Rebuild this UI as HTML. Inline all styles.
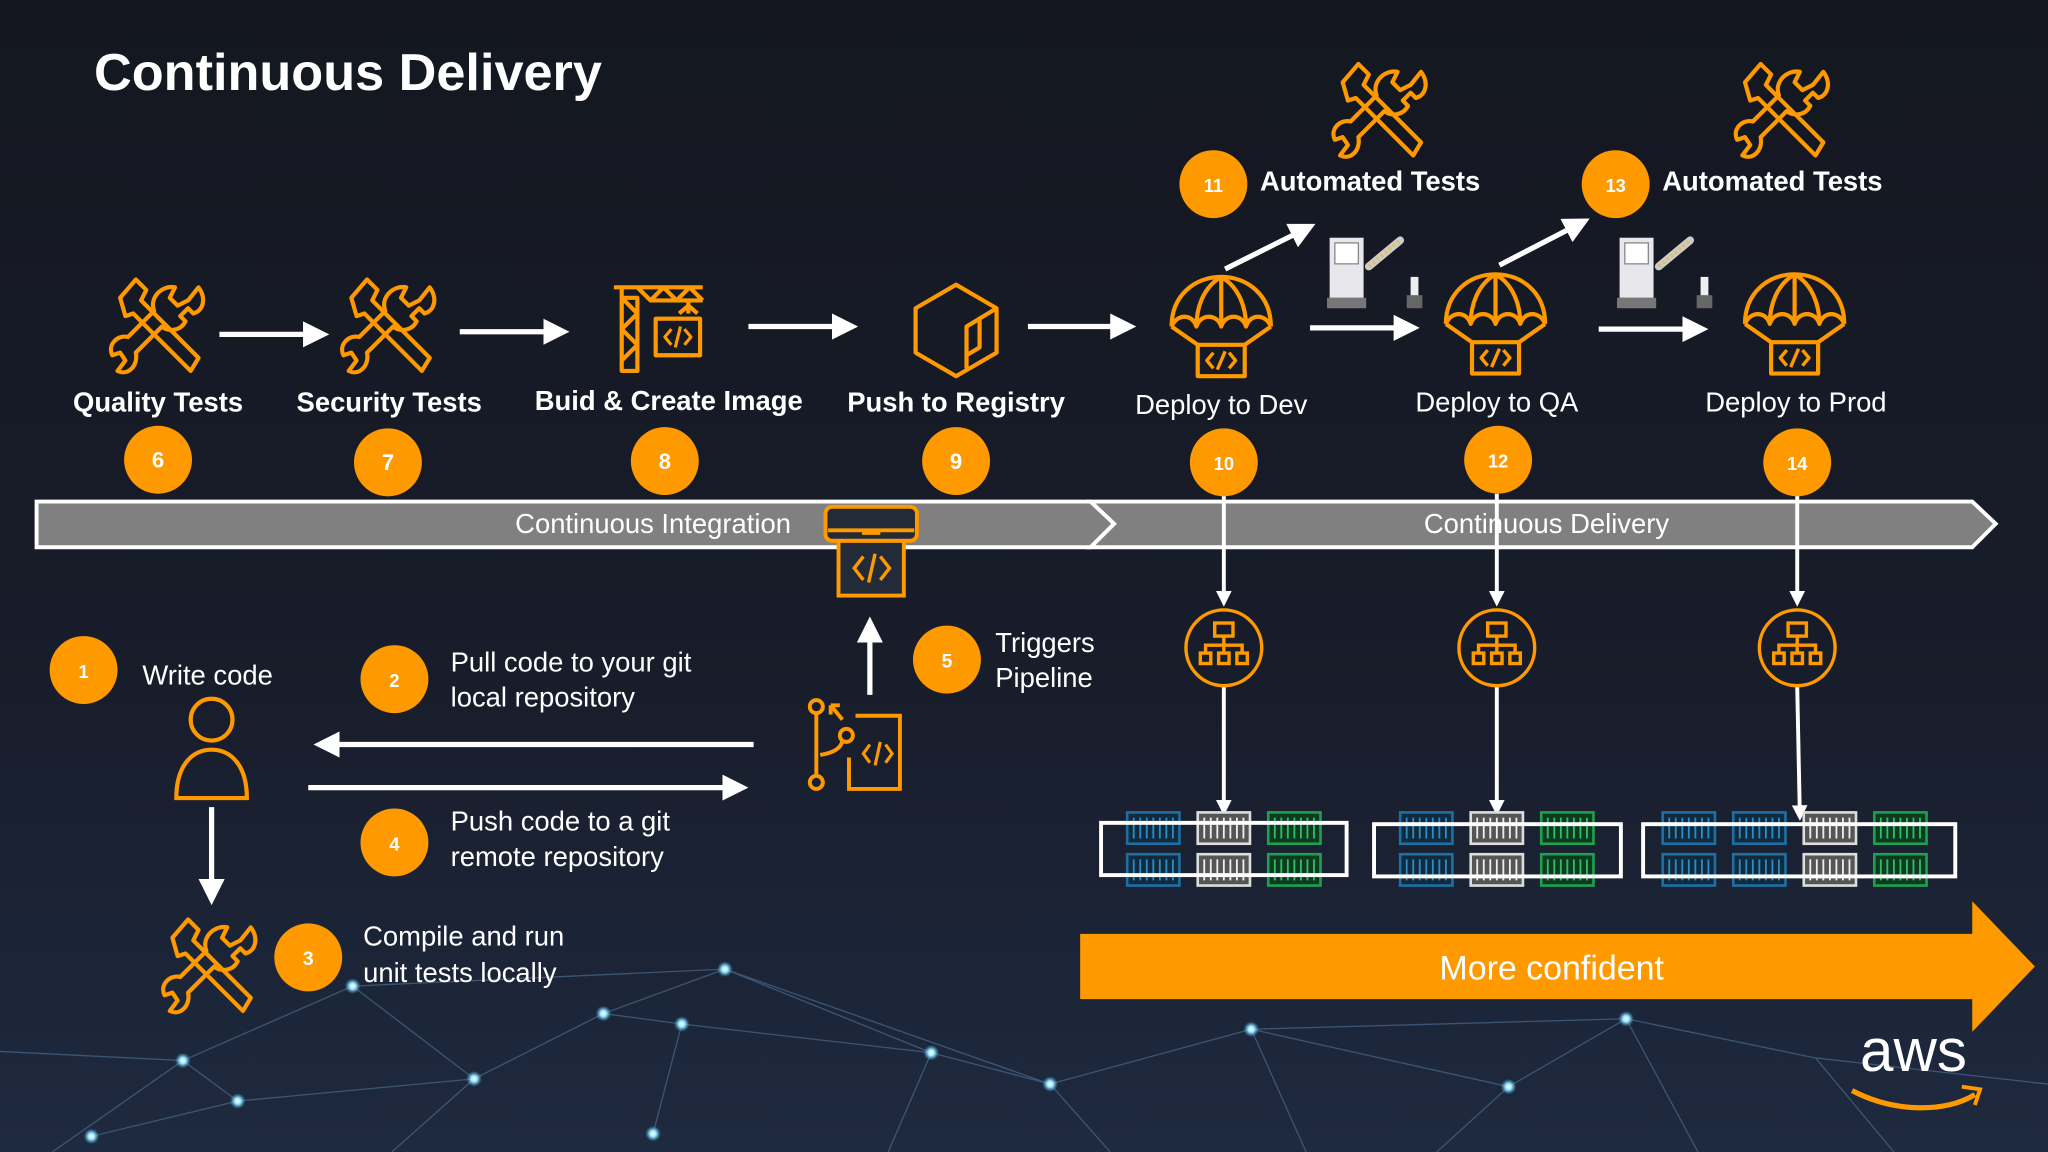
<!DOCTYPE html>
<html><head><meta charset="utf-8"><style>
html,body{margin:0;padding:0;background:#161a26;}
svg{display:block}
text{font-family:"Liberation Sans Narrow","Liberation Sans",sans-serif;fill:#fff}
</style></head><body>
<svg width="2048" height="1152" viewBox="0 0 1568 882" xmlns="http://www.w3.org/2000/svg">
<defs>
<linearGradient id="bg" x1="0" y1="0" x2="0" y2="1">
<stop offset="0" stop-color="#14171f"/><stop offset="0.6" stop-color="#181d2b"/><stop offset="1" stop-color="#1e2a40"/>
</linearGradient>
<radialGradient id="dot"><stop offset="0" stop-color="#fff"/><stop offset="0.4" stop-color="#9ee6ff"/><stop offset="1" stop-color="#3ab0e0" stop-opacity="0"/></radialGradient>
<g id="wr" fill="none" stroke="#f90" stroke-width="3.2" stroke-linejoin="round">
<path d="M-30,-22 L-18,-36 L-10,-28 L-14,-20 L30,24 L24,34 L-20,-10 L-26,-8 Z"/>
<path d="M30,-30 C36,-22 34,-12 26,-10 L22,-14 L16,-8 L20,-4 C16,4 6,4 2,0 L-18,20 C-16,30 -24,38 -32,34 L-26,26 L-30,20 L-36,22 C-40,14 -32,6 -24,8 L-4,-12 C-8,-22 2,-32 12,-30 L8,-22 L14,-16 L22,-20 Z"/>
</g>
<g id="pc" fill="none" stroke="#f90" stroke-width="3.2" stroke-linejoin="round">
<path d="M-38,0 C-38,-24 -20,-38 0,-38 C20,-38 38,-24 38,0"/>
<path d="M-38,0 C-34,-10 -22,-10 -19,0 C-16,-10 -3,-10 0,0 C3,-10 16,-10 19,0 C22,-10 34,-10 38,0"/>
<path d="M0,-38 L0,0 M0,-38 C-14,-30 -19,-14 -19,0 M0,-38 C14,-30 19,-14 19,0"/>
<path d="M-38,0 L-18,14 M38,0 L18,14"/>
<rect x="-18" y="14" width="36" height="24"/>
<path d="M-6,20 L-11,26 L-6,32 M6,20 L11,26 L6,32 M3,19 L-3,33" stroke-width="2.6"/>
</g>
<g id="gate">
<rect x="-28" y="-28" width="26" height="46" fill="#e8e8ec"/>
<rect x="-24" y="-24" width="18" height="16" fill="#fff" stroke="#888" stroke-width="1"/>
<rect x="-30" y="18" width="30" height="8" fill="#777"/>
<path d="M2,-6 L26,-26" stroke="#ccc" stroke-width="6" stroke-linecap="round"/>
<path d="M2,-6 L26,-26" stroke="#e0c060" stroke-width="3" stroke-dasharray="2 2"/>
<rect x="34" y="2" width="6" height="16" fill="#eee"/><rect x="31" y="16" width="12" height="10" fill="#666"/>
</g>
<g id="org" fill="none" stroke="#f90" stroke-width="2.6">
<circle r="29"/>
<rect x="-7" y="-19" width="14" height="10"/>
<path d="M0,-9 V-2 M-14,4 V-2 H14 V4 M0,-2 V4"/>
<rect x="-18" y="4" width="8" height="8"/><rect x="-4" y="4" width="8" height="8"/><rect x="10" y="4" width="8" height="8"/>
</g>
<g id="sv"><rect width="40" height="24" fill="#112a3e" stroke="#1e6fa3" stroke-width="2"/><path d="M5,4 V20 M10,4 V20 M15,4 V20 M20,4 V20 M25,4 V20 M30,4 V20 M35,4 V20" stroke="#2a8cc8" stroke-width="1.4"/></g>
<g id="sw"><rect width="40" height="24" fill="#555" stroke="#ddd" stroke-width="2"/><path d="M5,4 V20 M10,4 V20 M15,4 V20 M20,4 V20 M25,4 V20 M30,4 V20 M35,4 V20" stroke="#eee" stroke-width="1.4"/></g>
<g id="sg"><rect width="40" height="24" fill="#0f3a22" stroke="#1fa050" stroke-width="2"/><path d="M5,4 V20 M10,4 V20 M15,4 V20 M20,4 V20 M25,4 V20 M30,4 V20 M35,4 V20" stroke="#2ec060" stroke-width="1.4"/></g>
<marker id="ah" markerWidth="5" markerHeight="5" refX="3" refY="2.5" orient="auto" markerUnits="strokeWidth"><path d="M0,0 L5,2.5 L0,5 Z" fill="#fff"/></marker>
<marker id="ah2" markerWidth="4" markerHeight="4" refX="2.5" refY="2" orient="auto" markerUnits="strokeWidth"><path d="M0,0 L4,2 L0,4 Z" fill="#fff"/></marker>
</defs>
<rect width="1568" height="882" fill="url(#bg)"/>
<!-- network -->
<g stroke="#4a6a8a" stroke-width="1" opacity="0.7" fill="none">
<path d="M0,805 L140,812 L270,755 L555,742 L462,776 L363,826 L182,843 L70,870 M140,812 L182,843 M270,755 L363,826 M555,742 L713,806 L804,830 L958,788 L1155,832 L1245,780 L1390,810 L1568,830 M462,776 L522,784 L713,806 M522,784 L500,868 M713,806 L680,882 M804,830 L850,882 M958,788 L1000,882 M1155,832 L1100,882 M1245,780 L1300,882 M1390,810 L1450,882 M363,826 L300,882 M555,742 L804,830 M958,788 L1245,780 M140,812 L40,882"/>
</g>
<g fill="url(#dot)">
<circle cx="140" cy="812" r="6"/><circle cx="182" cy="843" r="6"/><circle cx="270" cy="755" r="6"/><circle cx="363" cy="826" r="6"/><circle cx="462" cy="776" r="6"/><circle cx="522" cy="784" r="6"/><circle cx="555" cy="742" r="6"/><circle cx="713" cy="806" r="6"/><circle cx="804" cy="830" r="6"/><circle cx="958" cy="788" r="6"/><circle cx="1155" cy="832" r="6"/><circle cx="1245" cy="780" r="6"/><circle cx="500" cy="868" r="6"/><circle cx="70" cy="870" r="6"/>
</g>
<text x="72" y="69" font-family="Liberation Sans" font-size="40" font-weight="bold" style="font-family:'Liberation Sans',sans-serif">Continuous Delivery</text>

<!-- big bar -->
<path d="M28,384 L835,384 L853,401 L835,419 L28,419 Z" fill="#808080" stroke="#fff" stroke-width="3"/>
<path d="M835,384 L1510,384 L1528,401 L1510,419 L835,419 L853,401 Z" fill="#808080" stroke="#fff" stroke-width="3"/>
<text x="500" y="408" font-size="21" text-anchor="middle">Continuous Integration</text>
<text x="1184" y="408" font-size="21" text-anchor="middle">Continuous Delivery</text>

<!-- top icons -->
<use href="#wr" x="122" y="250"/>
<use href="#wr" x="299" y="250"/>
<use href="#wr" x="1058" y="85"/>
<use href="#wr" x="1366" y="85"/>
<g fill="none" stroke="#f90" stroke-width="3.2" stroke-linejoin="round">
<path d="M476,220 H538 M470,220 H476 V284 H488 V228 H476 M476,228 L488,240 L476,252 L488,264 L476,276 M488,220 L498,230 L508,220 L518,230 L528,220 L538,230 M498,230 H538 M527,230 V240"/>
<path d="M520,240 L527,234 L534,240"/>
<rect x="502" y="244" width="34" height="28"/>
<path d="M514,252 L509,258 L514,264 M524,252 L529,258 L524,264 M521,250 L517,266" stroke-width="2.4"/>
<path d="M732,218 L763,236 L763,270 L732,288 L701,270 L701,236 Z M763,236 L740,250 V282 M740,250 L750,244 V266 L740,272"/>
</g>
<use href="#pc" x="935" y="250"/>
<use href="#pc" x="1145" y="248"/>
<use href="#pc" x="1374" y="248"/>
<use href="#gate" x="1046" y="210"/>
<use href="#gate" x="1268" y="210"/>

<!-- top arrows -->
<g stroke="#fff" stroke-width="4" marker-end="url(#ah)">
<line x1="168" y1="256" x2="244" y2="256"/>
<line x1="352" y1="254" x2="428" y2="254"/>
<line x1="573" y1="250" x2="649" y2="250"/>
<line x1="787" y1="250" x2="862" y2="250"/>
<line x1="1003" y1="251" x2="1079" y2="251"/>
<line x1="1224" y1="252" x2="1300" y2="252"/>
<line x1="938" y1="206" x2="1000" y2="175"/>
<line x1="1148" y1="203" x2="1210" y2="171"/>
</g>

<!-- labels -->
<g font-size="21" font-weight="bold" text-anchor="middle">
<text x="121" y="315">Quality Tests</text>
<text x="298" y="315">Security Tests</text>
<text x="512" y="314">Buid &amp; Create Image</text>
<text x="732" y="315">Push to Registry</text>
<text x="1049" y="146">Automated Tests</text>
<text x="1357" y="146">Automated Tests</text>
</g>
<g font-size="21" text-anchor="middle">
<text x="935" y="317">Deploy to Dev</text>
<text x="1146" y="315">Deploy to QA</text>
<text x="1375" y="315">Deploy to Prod</text>
</g>

<!-- vertical connectors -->
<g stroke="#fff" stroke-width="3" marker-end="url(#ah2)">
<line x1="937" y1="378" x2="937" y2="460"/>
<line x1="1146" y1="378" x2="1146" y2="460"/>
<line x1="1376" y1="378" x2="1376" y2="460"/>
<line x1="937" y1="526" x2="937" y2="620"/>
<line x1="1146" y1="526" x2="1146" y2="620"/>
<line x1="1376" y1="526" x2="1378" y2="624"/>
</g>
<use href="#org" x="937" y="496"/>
<use href="#org" x="1146" y="496"/>
<use href="#org" x="1376" y="496"/>

<!-- servers -->
<g>
<use href="#sv" x="863" y="622"/><use href="#sw" x="917" y="622"/><use href="#sg" x="971" y="622"/>
<use href="#sv" x="863" y="654"/><use href="#sw" x="917" y="654"/><use href="#sg" x="971" y="654"/>
<use href="#sv" x="1072" y="622"/><use href="#sw" x="1126" y="622"/><use href="#sg" x="1180" y="622"/>
<use href="#sv" x="1072" y="654"/><use href="#sw" x="1126" y="654"/><use href="#sg" x="1180" y="654"/>
<use href="#sv" x="1273" y="622"/><use href="#sv" x="1327" y="622"/><use href="#sw" x="1381" y="622"/><use href="#sg" x="1435" y="622"/>
<use href="#sv" x="1273" y="654"/><use href="#sv" x="1327" y="654"/><use href="#sw" x="1381" y="654"/><use href="#sg" x="1435" y="654"/>
</g>
<g fill="none" stroke="#fff" stroke-width="3">
<rect x="843" y="630" width="188" height="40"/>
<rect x="1052" y="631" width="189" height="40"/>
<rect x="1258" y="631" width="239" height="40"/>
</g>

<!-- orange arrow -->
<path d="M827,715 L1510,715 L1510,690 L1558,740 L1510,790 L1510,765 L827,765 Z" fill="#f90"/>
<text x="1188" y="750" font-size="26" text-anchor="middle">More confident</text>

<!-- bottom left -->
<g fill="none" stroke="#f90" stroke-width="3.2">
<circle cx="162" cy="551" r="16"/>
<path d="M135,611 C135,585 148,574 162,574 C176,574 189,585 189,611 Z"/>
</g>
<use href="#wr" x="162" y="740"/>
<g stroke="#fff" stroke-width="4">
<line x1="162" y1="618" x2="162" y2="685" marker-end="url(#ah)"/>
<line x1="577" y1="570" x2="248" y2="570" marker-end="url(#ah)"/>
<line x1="236" y1="603" x2="565" y2="603" marker-end="url(#ah)"/>
<line x1="666" y1="532" x2="666" y2="480" marker-end="url(#ah)"/>
</g>
<!-- git icon -->
<g fill="none" stroke="#f90" stroke-width="3">
<circle cx="625" cy="541" r="5"/><circle cx="625" cy="599" r="5"/><circle cx="648" cy="563" r="5"/>
<path d="M625,546 V594 M628,578 C640,576 644,572 645,567 M636,540 L645,551 M636,540 V547 M636,540 H643"/>
<path d="M655,548 H689 V604 H650 V580"/>
<path d="M666,570 L661,577 L666,584 M678,570 L683,577 L678,584 M674,568 L670,586" stroke-width="2.4"/>
</g>
<!-- pipeline icon -->
<g fill="#232a38" stroke="#f90" stroke-width="3">
<rect x="642" y="414" width="50" height="42"/>
<rect x="632" y="388" width="70" height="26" rx="5"/>
<path d="M634,406 H700 M660,408 H674" fill="none"/>
<path d="M661,426 L654,435 L661,444 M674,426 L681,435 L674,444 M670,424 L665,446" fill="none" stroke-width="2.6"/>
</g>

<!-- circles -->
<g fill="#f90">
<circle cx="121" cy="352" r="26"/><circle cx="297" cy="354" r="26"/><circle cx="509" cy="353" r="26"/><circle cx="732" cy="353" r="26"/>
<circle cx="937" cy="354" r="26"/><circle cx="1147" cy="352" r="26"/><circle cx="1376" cy="354" r="26"/>
<circle cx="929" cy="141" r="26"/><circle cx="1237" cy="141" r="26"/>
<circle cx="64" cy="513" r="26"/><circle cx="302" cy="520" r="26"/><circle cx="302" cy="645" r="26"/><circle cx="725" cy="505" r="26"/><circle cx="236" cy="733" r="26"/>
</g>
<g font-size="17" font-weight="bold" text-anchor="middle">
<text x="121" y="358">6</text><text x="297" y="360">7</text><text x="509" y="359">8</text><text x="732" y="359">9</text>
<text x="937" y="360" font-size="14">10</text><text x="1147" y="358" font-size="14">12</text><text x="1376" y="360" font-size="14">14</text>
<text x="929" y="147" font-size="14">11</text><text x="1237" y="147" font-size="14">13</text>
<text x="64" y="519" font-size="14">1</text><text x="302" y="526" font-size="14">2</text><text x="302" y="651" font-size="14">4</text><text x="725" y="511" font-size="15">5</text><text x="236" y="739" font-size="15">3</text>
</g>
<g font-size="21">
<text x="109" y="524">Write code</text>
<text x="345" y="514">Pull code to your git</text>
<text x="345" y="541">local repository</text>
<text x="345" y="636">Push code to a git</text>
<text x="345" y="663">remote repository</text>
<text x="762" y="499">Triggers</text>
<text x="762" y="526">Pipeline</text>
<text x="278" y="724">Compile and run</text>
<text x="278" y="752">unit tests locally</text>
</g>
<!-- aws -->
<text x="1465" y="820" font-size="46" font-family="Liberation Sans" text-anchor="middle" style="font-family:'Liberation Sans',sans-serif">aws</text>
<path d="M1418,835 C1450,852 1490,852 1512,838" fill="none" stroke="#f90" stroke-width="4"/>
<path d="M1502,832 L1516,834 L1512,846" fill="none" stroke="#f90" stroke-width="3"/>
</svg>
</body></html>
